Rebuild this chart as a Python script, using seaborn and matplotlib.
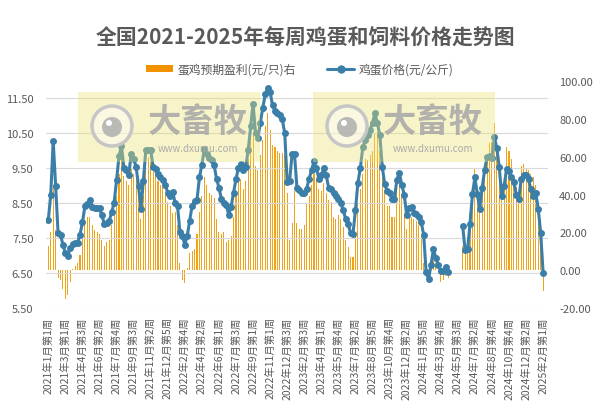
import numpy as np
import pandas as pd
import matplotlib
matplotlib.use('Agg')
import matplotlib.pyplot as plt
import seaborn as sns
from matplotlib.patches import Patch, Rectangle, Circle
from matplotlib.lines import Line2D
from matplotlib.ticker import FormatStrFormatter

sns.set_theme(style='white')
plt.rcParams['font.family'] = ['Noto Sans CJK SC', 'DejaVu Sans']
plt.rcParams['axes.unicode_minus'] = False

title = '全国2021-2025年每周鸡蛋和饲料价格走势图'
bar_name = '蛋鸡预期盈利(元/只)右'
line_name = '鸡蛋价格(元/公斤)'

tick_labels = ['2021年1月第1周', '2021年3月第1周', '2021年4月第3周', '2021年6月第2周',
               '2021年7月第4周', '2021年9月第3周', '2021年11月第2周', '2021年12月第5周',
               '2022年2月第4周', '2022年4月第2周', '2022年6月第1周', '2022年7月第3周',
               '2022年9月第1周', '2022年11月第1周', '2022年12月第3周', '2023年2月第3周',
               '2023年4月第1周', '2023年5月第4周', '2023年7月第2周', '2023年8月第5周',
               '2023年10月第4周', '2023年12月第2周', '2024年1月第5周', '2024年3月第4周',
               '2024年5月第3周', '2024年7月第2周', '2024年8月第4周', '2024年10月第4周',
               '2024年12月第2周', '2025年2月第1周']

egg_price = [
    8.03, 8.74, 10.29, 9.0, 7.65, 7.6, 7.31, 7.07, 7.0, 7.22,
    7.33, 7.36, 7.37, 7.6, 7.95, 8.41, 8.48, 8.58, 8.4, 8.35,
    8.36, 8.35, 8.15, 7.9, 7.93, 8.0, 8.24, 8.52, 9.16, 9.85,
    10.14, 9.52, 9.45, 9.3, 9.92, 9.76, 9.55, 9.0, 8.33, 9.14,
    10.02, 10.02, 10.02, 9.54, 9.48, 9.33, 9.24, 9.17, 9.02, 8.8,
    8.7, 8.82, 8.52, 8.43, 7.67, 7.57, 7.31, 7.57, 8.0, 8.43,
    8.57, 8.6, 9.24, 9.6, 10.06, 9.9, 9.8, 9.74, 9.6, 9.2,
    8.95, 8.62, 8.52, 8.45, 8.17, 8.4, 8.8, 9.2, 9.5, 9.62,
    9.45, 9.55, 10.02, 10.7, 11.35, 10.52, 10.38, 10.81, 11.24, 11.62,
    11.8, 11.68, 11.3, 11.15, 11.08, 11.02, 10.9, 10.5, 9.1, 9.15,
    9.9, 9.9, 8.95, 8.89, 8.8, 8.78, 8.92, 9.2, 9.45, 9.7,
    9.5, 9.2, 9.3, 9.5, 9.3, 8.95, 8.92, 8.8, 8.7, 8.62,
    8.5, 8.3, 8.05, 7.9, 7.65, 7.63, 8.3, 9.08, 9.5, 10.1,
    10.3, 10.45, 10.6, 10.8, 11.08, 10.8, 10.45, 9.55, 9.05, 8.85,
    8.8, 8.63, 8.63, 9.17, 9.37, 9.03, 8.75, 8.17, 8.35, 8.4,
    8.22, 8.2, 8.1, 7.95, 7.6, 6.52, 6.33, 6.73, 7.19, 6.93,
    6.73, 6.55, 6.55, 6.66, 6.52, None, None, None, None, None,
    7.84, 7.16, 7.18, 7.91, 8.76, 9.24, 8.76, 8.33, 8.95, 9.45,
    9.82, 9.85, 9.8, 10.4, 10.08, 9.53, 8.72, 9.0, 9.48, 9.43,
    9.25, 9.1, 8.75, 8.62, 9.18, 9.3, 9.3, 9.18, 8.9, 8.7,
    8.8, 8.33, 7.65, 6.5]

layer_profit = [
    13, 20, 45, 21, -4, -5, -10, -15, -13, -6,
    0.5, 2, 4, 8, 18, 26, 28, 28, 24, 21,
    20, 19, 16, 13, 15, 16, 24, 29, 39, 51,
    59, 50, 47, 45, 54, 51, 48, 39, 27, 39,
    58, 60, 57, 52, 51, 47, 45, 44, 40, 36,
    34, 30, 31, 24, 4, -5, -7, 1, 9, 10,
    11, 19, 31, 39, 49, 45, 41, 40, 38, 27,
    20, 19, 20, 15, 16, 18, 28, 39, 47, 48,
    43, 47, 59, 71, 73, 55, 53, 61, 69, 76,
    83, 74, 66, 65, 63, 62, 62, 61, 41, 16,
    25, 42, 25, 22, 22, 24, 35, 39, 45, 51,
    48, 43, 42, 46, 41, 37, 36, 28, 27, 29,
    27, 23, 16, 12, 7, 7, 20, 35, 43, 51,
    59, 58, 61, 63, 72, 73, 63, 53, 42, 34,
    34, 28, 28, 43, 48, 39, 30, 22, 28, 28,
    27, 26, 24, 18, 4, -3, -7, 3, 5, 4,
    -1, -6, -5, -3, -4, None, None, None, None, None,
    13, 9, 9, 30, 39, 54, 39, 34, 43, 51,
    61, 67, 68, 78, 64, 55, 43, 50, 65, 63,
    59, 50, 44, 40, 55, 56, 54, 53, 51, 49,
    45, 36, 22, -11]

n = len(egg_price)
df = pd.DataFrame({'week': np.arange(n),
                   'price': pd.to_numeric(pd.Series(egg_price), errors='coerce'),
                   'profit': pd.to_numeric(pd.Series(layer_profit), errors='coerce')})
df['segment'] = df['price'].isna().cumsum()
line_df = df.dropna(subset=['price'])
bar_df = df.dropna(subset=['profit'])

W, H = 598, 414
fig = plt.figure(figsize=(W / 100, H / 100), dpi=100)
fig.patch.set_facecolor('white')
ax = fig.add_axes([46 / W, 1 - 309 / H, (548 - 46) / W, (309 - 82) / H])
ax2 = ax.twinx()
ax.set_zorder(ax2.get_zorder() + 1)
ax.patch.set_visible(False)

line_color = '#3B7EA8'
bar_color = '#EFA318'

sns.barplot(data=bar_df, x='week', y='profit', native_scale=True, color=bar_color,
            saturation=1, width=0.45, edgecolor='none', linewidth=0,
            errorbar=None, ax=ax2)
sns.lineplot(data=line_df, x='week', y='price', units='segment', estimator=None,
             color=line_color, lw=2.2, marker='o', markersize=5, markeredgewidth=0,
             sort=False, legend=False, ax=ax)

ax.set_xlim(-0.95, 205)
ax.set_ylim(5.5, 12.0)
ax.set_yticks(np.arange(5.5, 11.6, 1.0))
ax.yaxis.set_major_formatter(FormatStrFormatter('%.2f'))
ax2.set_ylim(-20, 100)
ax2.set_yticks(np.arange(-20, 101, 20))
ax2.yaxis.set_major_formatter(FormatStrFormatter('%.2f'))

ax.set_xticks(np.arange(0, n, 7))
ax.set_xticklabels(tick_labels, rotation=90, fontsize=7.5, color='#595959')
ax.tick_params(axis='x', length=0, pad=6)
ax.tick_params(axis='y', length=0, pad=9, labelsize=8, labelcolor='#595959')
ax2.tick_params(axis='y', length=0, pad=8, labelsize=8, labelcolor='#595959')
ax2.tick_params(axis='x', labelbottom=False, length=0)

ax.yaxis.grid(True, color='#D9D9D9', lw=0.8)
ax.xaxis.grid(False)
ax2.grid(False)
for a in (ax, ax2):
    a.set_xlabel('')
    a.set_ylabel('')
    for s in a.spines.values():
        s.set_visible(False)

fig.text(305 / W, 1 - 37 / H, title, fontsize=15, fontweight='bold', color='#595959',
         ha='center', va='center')

handles = [Patch(facecolor='#F39200', edgecolor='none'),
           Line2D([0], [0], color=line_color, lw=2.2, marker='o', markersize=5)]
fig.legend(handles, [bar_name, line_name], loc='center', bbox_to_anchor=(300 / W, 1 - 70 / H),
           ncol=2, frameon=False, fontsize=8.5, handlelength=2.3, handleheight=0.5,
           columnspacing=2.6, handletextpad=0.4, labelcolor='#595959')

ov = fig.add_axes([0, 0, 1, 1], zorder=10)
ov.set_xlim(0, W)
ov.set_ylim(H, 0)
ov.axis('off')
for x0 in (78, 313):
    ov.add_patch(Rectangle((x0, 93), 182, 70, facecolor=(0.93, 0.89, 0.45), alpha=0.38,
                           edgecolor='none'))
    cx, cy = x0 + 34, 127
    ov.add_patch(Circle((cx, cy), 20, facecolor=(1, 1, 1, 0.45), edgecolor='#C6C6C6', lw=2.5))
    ov.add_patch(Circle((cx, cy + 1), 10, facecolor='#B2B2B2', edgecolor='none', alpha=0.9))
    ov.add_patch(Circle((cx - 3, cy - 3), 3, facecolor='white', edgecolor='none'))
    ov.text(x0 + 120, 122, '大畜牧', fontsize=24, fontweight='bold', color='#A6A6A6',
            alpha=0.85, ha='center', va='center')
    ov.text(x0 + 120, 149, 'www.dxumu.com', fontsize=7, color='#ABABAB',
            ha='center', va='center')

fig.savefig('out.png', dpi=100)
